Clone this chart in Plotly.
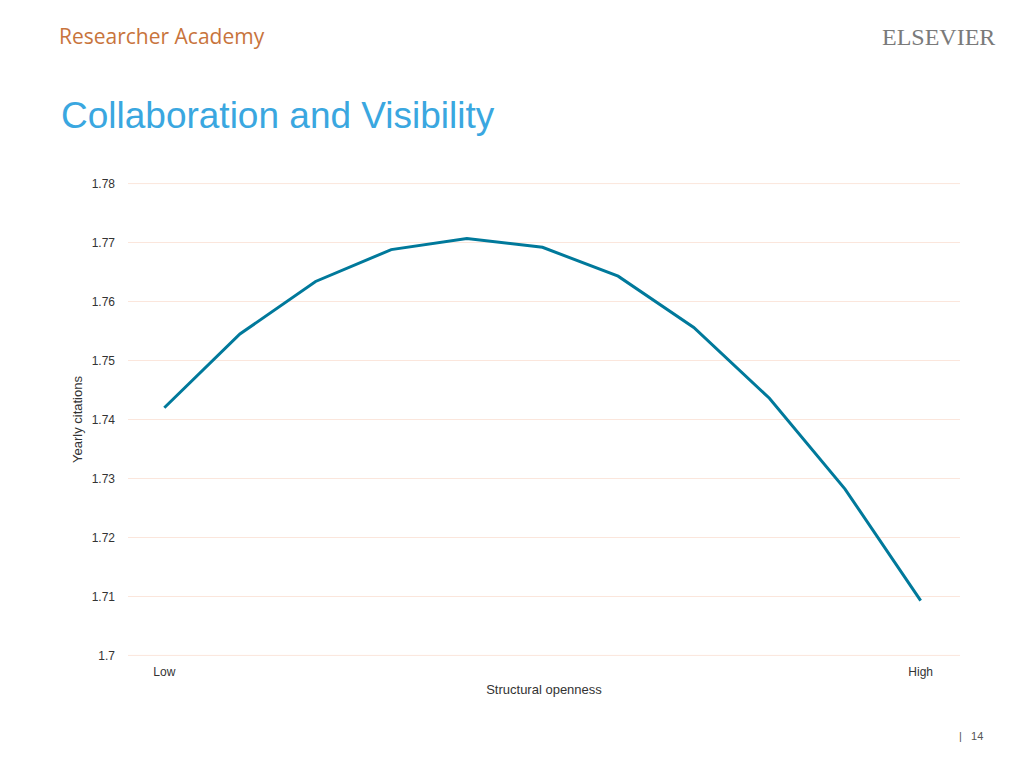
import plotly.graph_objects as go

x_idx = list(range(11))
citations = [1.7420, 1.7545, 1.7634, 1.7688, 1.7707, 1.7692, 1.7643, 1.7556, 1.7436, 1.7282, 1.7093]
tick_labels = ["Low", "High"]
y_ticks = [1.7, 1.71, 1.72, 1.73, 1.74, 1.75, 1.76, 1.77, 1.78]

H = 473
fig = go.Figure(go.Scatter(x=x_idx, y=citations, mode="lines",
                           line=dict(color="#00799b", width=3), hoverinfo="skip"))
fig.update_layout(
    width=1024, height=768, paper_bgcolor="white", plot_bgcolor="white",
    margin=dict(l=120, r=72, t=175, b=120), showlegend=False,
    font=dict(family="Liberation Sans, Arial", color="#333333", size=12),
    xaxis=dict(range=[-0.48, 10.52], tickvals=[0, 10], ticktext=tick_labels,
               showgrid=False, zeroline=False, showline=False, ticks="",
               ticklabelstandoff=7,
               title=dict(text="Structural openness", font=dict(size=13), standoff=6)),
    yaxis=dict(range=[1.6999, 1.7801], tickvals=y_ticks,
               ticktext=["1.7"] + [f"{v:.2f}" for v in y_ticks[1:]],
               gridcolor="#fbe6dc", gridwidth=1, zeroline=False, showline=False,
               ticks="", ticklabelstandoff=12,
               title=dict(text="Yearly citations", font=dict(size=13), standoff=6)),
)
for v in (y_ticks[0], y_ticks[-1]):
    fig.add_shape(type="line", xref="paper", yref="y", x0=0, x1=1, y0=v, y1=v,
                  line=dict(color="#fbe6dc", width=1), layer="below")
fig.add_annotation(xref="paper", yref="paper", x=-0.083, y=1 + (183 - 116) / H, xanchor="left", yanchor="middle",
                   text="Collaboration and Visibility", showarrow=False,
                   font=dict(size=37, color="#3aa7e0", family="Liberation Sans, Arial"))
fig.add_annotation(xref="paper", yref="paper", x=-0.085, y=1 + (183 - 36) / H, xanchor="left", yanchor="middle",
                   text="Researcher Academy", showarrow=False,
                   font=dict(size=21, color="#c8743c", family="Open Sans"))
fig.add_annotation(xref="paper", yref="paper", x=1.045, y=1 + (183 - 37) / H, xanchor="right", yanchor="middle",
                   text="ELSEVIER", showarrow=False,
                   font=dict(size=24, color="#7a7a7a", family="Liberation Serif"))
fig.add_annotation(xref="paper", yref="paper", x=1.03, y=-(736 - 656) / H, xanchor="right", yanchor="middle",
                   text="|   14", showarrow=False, font=dict(size=11, color="#555555"))
fig.write_html("out.html")
